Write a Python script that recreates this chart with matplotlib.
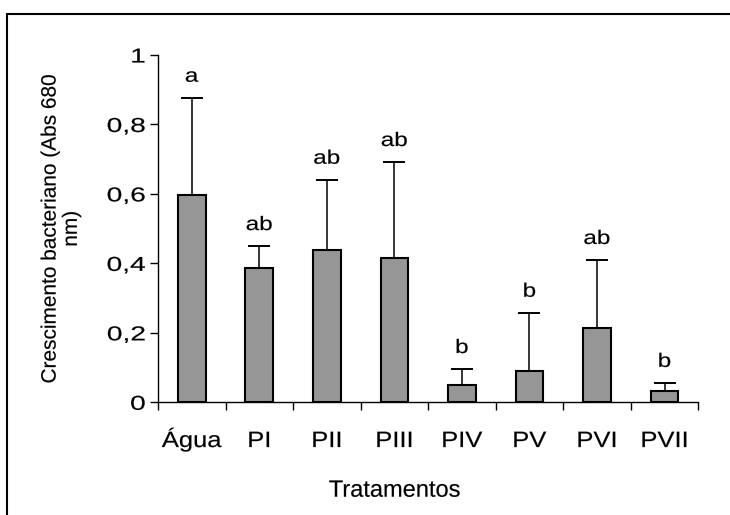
import numpy as np
import matplotlib
matplotlib.use("Agg")
import matplotlib.pyplot as plt
from matplotlib.patches import Rectangle
from matplotlib.patheffects import AbstractPathEffect
from matplotlib.transforms import Affine2D

plt.rcParams["font.family"] = ["Liberation Sans", "DejaVu Sans"]

# Bacterial growth (absorbance at 680 nm) per treatment
treatments = ["Água", "PI", "PII", "PIII", "PIV", "PV", "PVI", "PVII"]
growth = [0.596, 0.388, 0.438, 0.416, 0.051, 0.090, 0.213, 0.033]
growth_sd = [0.281, 0.062, 0.203, 0.276, 0.045, 0.168, 0.197, 0.023]
groups = ["a", "ab", "ab", "ab", "b", "b", "ab", "b"]
y_ticks = [0, 0.2, 0.4, 0.6, 0.8, 1.0]
y_tick_labels = ["0", "0,2", "0,4", "0,6", "0,8", "1"]


class WideText(AbstractPathEffect):
    """Draw text glyphs stretched horizontally about a pivot, with an
    optional thin outline to thicken the strokes slightly."""

    def __init__(self, sx=1.0, pivot="center", stroke=0.12):
        super().__init__()
        self._sx = sx
        self._pivot = pivot
        self._stroke = stroke

    def draw_path(self, renderer, gc, tpath, affine, rgbFace=None):
        if len(tpath.vertices) == 0:
            return
        ext = tpath.transformed(affine).get_extents()
        if self._pivot == "right":
            px = ext.x1
        elif self._pivot == "left":
            px = ext.x0
        else:
            px = 0.5 * (ext.x0 + ext.x1)
        stretch = Affine2D().translate(-px, 0).scale(self._sx, 1).translate(px, 0)
        tr = affine + stretch
        gc0 = renderer.new_gc()
        gc0.copy_properties(gc)
        if rgbFace is not None and self._stroke > 0:
            gc0.set_foreground(rgbFace)
            gc0.set_linewidth(self._stroke)
        renderer.draw_path(gc0, tpath, tr, rgbFace)
        gc0.restore()


W, H = 730, 515
fig = plt.figure(figsize=(W / 100, H / 100), dpi=100)
ax = fig.add_axes([158 / W, 112.7 / H, 540.3 / W, 347.3 / H])

x = np.arange(len(treatments))
ax.bar(x, growth, width=0.41, color="#969696", edgecolor="black",
       linewidth=1.5, zorder=2)
eb = ax.errorbar(x, growth, yerr=[np.zeros(len(x)), growth_sd], fmt="none",
                 ecolor="black", elinewidth=1.1, capsize=8, capthick=1.4,
                 zorder=3)
# one-sided bars: hide the caps sitting on the bar tops
for cap in eb[1]:
    if np.allclose(cap.get_ydata(), growth):
        cap.set_visible(False)

# significance letters above each error bar
for xi, top, g in zip(x, np.add(growth, growth_sd), groups):
    ax.annotate(g, (xi, top), xytext=(0, 11.5), textcoords="offset points",
                ha="center", va="baseline", fontsize=14,
                path_effects=[WideText(1.25)])

ax.set_xlim(-0.5, len(treatments) - 0.5)
ax.set_ylim(0, 1)
for side in ("top", "right"):
    ax.spines[side].set_visible(False)
ax.spines["left"].set_linewidth(1.0)
ax.spines["bottom"].set_linewidth(1.0)

ax.set_xticks(x, treatments)
ax.set_xticks(np.arange(-0.5, len(treatments), 1.0), minor=True)
ax.tick_params(axis="x", which="major", length=0, pad=32.2, labelsize=16)
ax.tick_params(axis="x", which="minor", length=5.5, width=1.0, direction="out")
ax.set_yticks(y_ticks, y_tick_labels)
ax.tick_params(axis="y", length=5.5, width=1.0, pad=3.6, labelsize=14.5)

for lbl in ax.get_xticklabels():
    lbl.set_verticalalignment("baseline")
    lbl.set_path_effects([WideText(1.15)])
for lbl in ax.get_yticklabels():
    lbl.set_path_effects([WideText(1.4, "right")])

ax.set_ylabel("Crescimento bacteriano (Abs 680\nnm)", fontsize=15,
              linespacing=1.15)
ax.yaxis.set_label_coords(-0.18, 0.5)
ax.yaxis.label.set_verticalalignment("center")
ax.yaxis.label.set_path_effects([WideText(1.0)])

ax.set_xlabel("Tratamentos", fontsize=17)
ax.xaxis.set_label_coords((394.6 - 158) / 540.3, (402.3 - 496.7) / 347.3)
ax.xaxis.label.set_verticalalignment("baseline")
ax.xaxis.label.set_path_effects([WideText(1.0)])

# chart-area border
fig.add_artist(Rectangle((7 / W, -0.05), 1.1, 1 - 14 / H + 0.05,
                         transform=fig.transFigure, fill=False,
                         edgecolor="black", linewidth=1.5))

fig.savefig("out.png", dpi=100)
